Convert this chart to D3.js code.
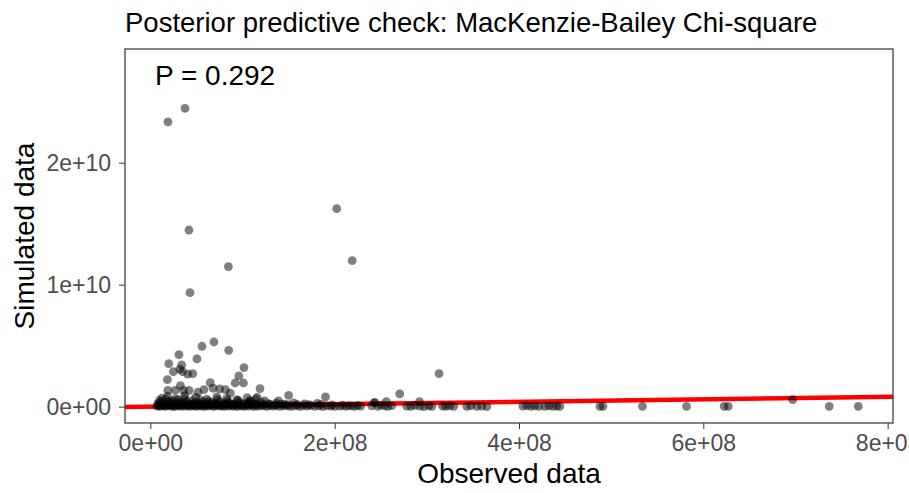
<!DOCTYPE html>
<html>
<head>
<meta charset="utf-8">
<script src="https://cdn.jsdelivr.net/npm/d3@7"></script>
<style>
  body { margin: 0; background: #fff; }
  #ppc-chart { width: 909px; height: 493px; }
  text { font-family: "Liberation Sans", Arial, sans-serif; }
</style>
</head>
<body>
<div id="ppc-chart"></div>
<script>
// Values are [observed, simulated] in millions.
const highSim = [
    [19.1, 23340], [37.6, 24460], [41.9, 14480], [84.7, 11480], [43.0, 9340],
    [202.2, 16230], [219.0, 11970]
];

const midSim = [
    [69, 5300], [56, 4950], [85, 4620], [31, 4260], [50.6, 3910], [20, 3520],
    [34, 3420], [101.6, 3200], [25, 2870], [32, 3070], [35, 2870], [40.5, 2660],
    [46, 2700], [96, 2520], [18.5, 2210], [92, 1940], [101, 1940], [65, 1970],
    [32.6, 1720], [119, 1480], [19, 1330], [27, 1330], [36, 1330], [42, 1330],
    [51.7, 1180], [58.2, 1390], [68, 1510], [75.2, 1450], [81.4, 1390], [86.8, 1100],
    [150, 930], [190, 800], [105, 740], [116, 770], [124, 470], [139, 470],
    [270.6, 1040], [313.3, 2700], [292, 410], [256, 410], [243, 330], [697, 570]
];

const fringe = [
    [12.5, 700], [18.8, 850], [27.5, 640], [37.3, 900], [49.2, 760], [61.2, 620],
    [72, 800], [82.9, 680], [93.7, 560], [107.8, 500], [114.3, 640],
    [10.1, 520], [16.8, 610], [24.1, 470], [30.2, 580], [37.4, 640], [45.9, 500],
    [54.2, 560], [63.1, 450], [72.8, 600], [83.6, 480], [95.2, 530], [108.5, 440]
];

const bandMid = [
    [8.2, 260], [11.5, 380], [15.3, 220], [19.7, 410], [23.4, 300], [27.9, 240],
    [31.6, 360], [35.2, 280], [39.8, 430], [44.1, 210], [48.5, 330], [52.9, 270],
    [57.3, 390], [61.8, 230], [66.4, 350], [70.9, 290], [75.5, 400], [80.1, 250],
    [85.2, 320], [90.3, 210], [95.6, 370], [101.2, 260], [107.4, 300], [113.9, 220],
    [120.8, 340], [128.1, 240], [136.4, 280], [145.2, 200], [155.6, 310], [167.3, 230],
    [181.2, 260]
];

const bandLow2 = [
    [9.6, 180], [13.4, 150], [17.2, 200], [21.3, 170], [25.6, 230], [29.8, 160],
    [33.5, 190], [37.9, 240], [42.3, 175], [46.4, 210], [50.7, 155], [54.8, 225],
    [59.1, 185], [63.6, 165], [67.8, 215], [72.1, 195], [76.9, 150], [81.5, 235],
    [86.1, 170], [91.0, 205], [96.1, 160], [100.4, 190], [105.3, 220], [110.5, 175],
    [115.8, 200], [122.1, 160], [129.4, 185], [134.9, 150], [141.8, 210], [149.6, 170],
    [159.4, 190], [171.8, 160], [185.4, 180], [197.2, 150]
];

const bandLow = [
    [7.1, 40], [8.9, 85], [10.4, 20], [12.2, 110], [14.6, 60], [16.1, 15], [18.3, 95],
    [20.5, 130], [22.2, 35], [24.8, 70], [26.3, 10], [28.7, 120], [30.9, 55], [32.4, 90],
    [34.8, 25], [36.6, 140], [38.9, 45], [41.2, 80], [43.0, 18], [45.5, 105], [47.3, 65],
    [49.6, 30], [51.8, 125], [53.7, 50], [55.9, 75], [58.4, 12], [60.2, 100], [62.7, 38],
    [64.5, 135], [66.9, 58], [69.2, 22], [71.4, 88], [73.3, 115], [75.8, 42], [78.1, 68],
    [80.2, 16], [82.6, 98], [84.9, 52], [87.3, 128], [89.5, 33], [91.8, 78], [94.2, 8],
    [96.7, 108], [99.1, 62], [101.6, 27], [104.2, 92], [106.5, 47], [109.3, 118],
    [111.8, 14], [114.6, 72], [117.2, 36], [120.3, 102], [123.5, 57], [126.8, 24],
    [130.1, 83], [133.7, 44], [137.2, 112], [140.6, 19], [144.3, 66], [147.9, 95],
    [151.2, 31], [154.8, 54], [158.7, 87], [162.3, 13], [166.1, 74], [170.2, 39],
    [174.4, 106], [178.3, 28], [182.6, 61], [187.1, 9], [191.5, 81], [195.8, 46], [200.3, 23]
];

const tail = [
    [205.5, 40], [208.7, 120], [212, 25], [215.2, 90], [218.5, 60], [221.7, 15],
    [225, 110], [228.3, 50], [240.2, 70], [243.5, 330], [246.7, 30], [250, 120],
    [254.3, 60], [257.6, 20], [261.9, 90], [278.2, 50], [282.5, 20], [286.9, 100],
    [292.3, 40], [296.7, 10], [302, 70], [305.4, 30], [317.3, 40], [320.5, 15],
    [324.9, 60], [329.2, 25], [343.4, 30], [347.7, 80], [354.2, 20], [359.6, 50],
    [365.1, 10], [404.2, 40], [408.5, 90], [412.9, 20], [417.2, 60], [421.5, 30],
    [428, 20], [432.4, 70], [436.7, 30], [441, 50], [444.3, 15], [487.8, 20],
    [491.1, 30], [534, 25], [581.8, 20], [622.6, 30], [627, 15], [736.6, 20], [768.1, 25]
];

const xTicks = [0, 2e8, 4e8, 6e8, 8e8];
const yTicks = [0, 1e10, 2e10];
const pValue = "P = 0.292";

function initPPC() {
    const container = document.getElementById("ppc-chart");
    const margin = { top: 49, right: 16, bottom: 70, left: 125 };
    const width = container.clientWidth - margin.left - margin.right;
    const height = container.clientHeight - margin.top - margin.bottom;

    const root = d3.select("#ppc-chart")
        .append("svg")
        .attr("width", width + margin.left + margin.right)
        .attr("height", height + margin.top + margin.bottom);

    const svg = root.append("g")
        .attr("transform", `translate(${margin.left},${margin.top})`);

    // Scales (raw units)
    const x = d3.scaleLinear().domain([-2.75e7, 8.058e8]).range([0, width]);
    const y = d3.scaleLinear().domain([-1.34e9, 2.932e10]).range([height, 0]);

    // ggplot style scientific labels: 2e+08
    const sci = d => {
        const [m, e] = d3.format(".0e")(d).split("e");
        return m + "e" + e[0] + e.slice(1).padStart(2, "0");
    };

    svg.append("defs").append("clipPath")
        .attr("id", "panel-clip")
        .append("rect")
        .attr("width", width)
        .attr("height", height);

    const panel = svg.append("g").attr("clip-path", "url(#panel-clip)");

    // y = x reference line
    const [x0, x1] = x.domain();
    panel.append("line")
        .attr("x1", x(x0)).attr("y1", y(x0))
        .attr("x2", x(x1)).attr("y2", y(x1))
        .attr("stroke", "#ff0000")
        .attr("stroke-width", 4.5);

    // Points
    const points = [...bandLow, ...bandLow2, ...bandMid, ...fringe, ...tail, ...midSim, ...highSim];
    panel.selectAll(".pt")
        .data(points)
        .join("circle")
        .attr("class", "pt")
        .attr("cx", d => x(d[0] * 1e6))
        .attr("cy", d => y(d[1] * 1e6))
        .attr("r", 4.4)
        .attr("fill", "#000")
        .attr("fill-opacity", 0.5);

    // Axes
    svg.append("g")
        .attr("class", "axis")
        .attr("transform", `translate(0,${height})`)
        .call(d3.axisBottom(x).tickValues(xTicks).tickFormat(sci).tickSize(6).tickPadding(6))
        .call(g => g.select(".domain").remove());

    svg.append("g")
        .attr("class", "axis")
        .call(d3.axisLeft(y).tickValues(yTicks).tickFormat(sci).tickSize(6).tickPadding(8))
        .call(g => g.select(".domain").remove());

    svg.selectAll(".axis text")
        .attr("fill", "#4d4d4d")
        .attr("font-size", "23px");
    svg.selectAll(".axis line").attr("stroke", "#333");

    // Panel border
    svg.append("rect")
        .attr("width", width)
        .attr("height", height)
        .attr("fill", "none")
        .attr("stroke", "#333")
        .attr("stroke-width", 1.2);

    // Annotation
    svg.append("text")
        .attr("x", 30)
        .attr("y", 36)
        .attr("font-size", "28px")
        .attr("fill", "#000")
        .text(pValue);

    // Titles
    root.append("text")
        .attr("x", margin.left)
        .attr("y", 32)
        .attr("font-size", "27.5px")
        .attr("fill", "#000")
        .text("Posterior predictive check: MacKenzie-Bailey Chi-square");

    root.append("text")
        .attr("x", margin.left + width / 2)
        .attr("y", 483)
        .attr("text-anchor", "middle")
        .attr("font-size", "28px")
        .attr("fill", "#000")
        .text("Observed data");

    root.append("text")
        .attr("transform", `translate(34,${margin.top + height / 2}) rotate(-90)`)
        .attr("text-anchor", "middle")
        .attr("font-size", "28px")
        .attr("fill", "#000")
        .text("Simulated data");
}

initPPC();
</script>
</body>
</html>
